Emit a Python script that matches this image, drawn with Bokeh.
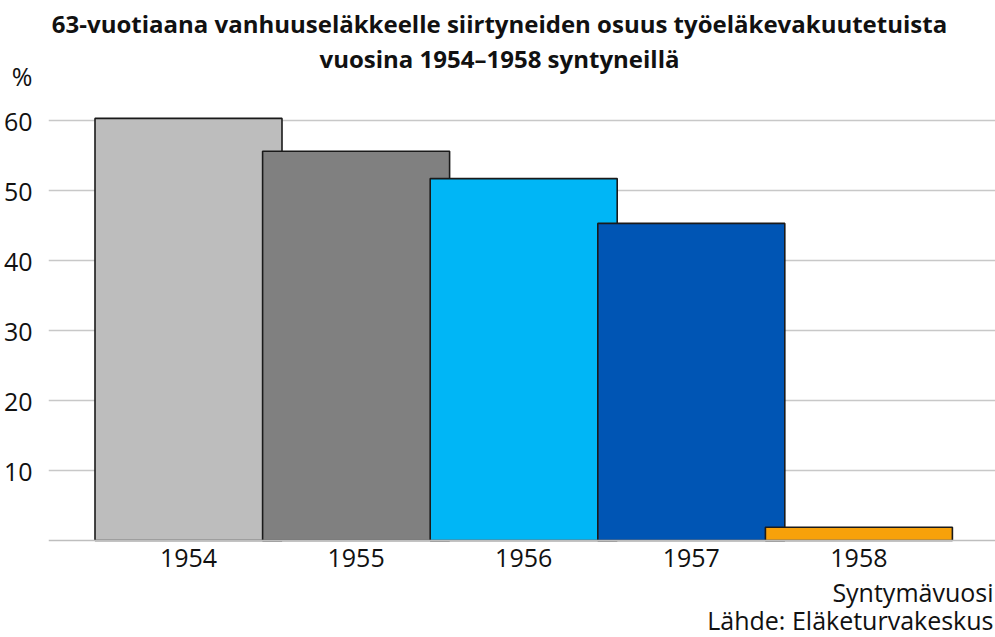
from bokeh.plotting import figure
from bokeh.models import ColumnDataSource, Label, FixedTicker, Range1d
from bokeh.embed import file_html
from bokeh.resources import INLINE

years = ["1954", "1955", "1956", "1957", "1958"]
shares = [60.3, 55.6, 51.7, 45.3, 1.9]
colors = ["#BDBDBD", "#808080", "#00B6F6", "#0055B4", "#F7A10A"]
y_ticks = [10, 20, 30, 40, 50, 60]

title_1 = "63-vuotiaana vanhuuseläkkeelle siirtyneiden osuus työeläkevakuutetuista"
title_2 = "vuosina 1954–1958 syntyneillä"
unit_label = "%"
x_title = "Syntymävuosi"
source_note = "Lähde: Eläketurvakeskus"

FONT = "Open Sans"
TXT = "#111111"

W, H = 995, 637
left_border = 48
zero_px = 540          # pixel row of the value 0
px_per_unit_x = 167.6
px_per_unit_y = 7.0

frame_w = W - left_border
x_start = -(188 - left_border) / px_per_unit_x
x_end = x_start + frame_w / px_per_unit_x
y_end = zero_px / px_per_unit_y
y_start = -(H - zero_px) / px_per_unit_y
unit_pos = (zero_px - 75) / px_per_unit_y  # where the "%" sits on the value axis

xpos = list(range(len(years)))
src = ColumnDataSource(dict(x=xpos, top=shares, color=colors))

p = figure(width=W, height=H, output_backend="svg", toolbar_location=None,
           x_range=Range1d(x_start, x_end), y_range=Range1d(y_start, y_end),
           min_border_left=left_border, min_border_right=0,
           min_border_top=0, min_border_bottom=0)
p.outline_line_color = None
p.background_fill_color = "white"
p.border_fill_color = "white"

p.vbar(x="x", top="top", width=187 / px_per_unit_x, bottom=0, source=src,
       fill_color="color", line_color="#1a1a1a", line_width=1.6)

# x axis, drawn at the value 0 inside the tall frame
p.xaxis.fixed_location = 0
p.xaxis.ticker = FixedTicker(ticks=xpos)
p.xaxis.major_label_overrides = {i: y for i, y in zip(xpos, years)}
p.xaxis.major_tick_line_color = None
p.xaxis.minor_tick_line_color = None
p.xaxis.axis_line_color = "#BEBEBE"
p.xaxis.axis_line_width = 1.5
p.xaxis.major_label_text_font = FONT
p.xaxis.major_label_text_font_size = "25px"
p.xaxis.major_label_text_color = TXT
p.xaxis.major_label_standoff = 2
p.xgrid.grid_line_color = None

# y axis (the unit sign sits above the top tick)
p.yaxis.ticker = FixedTicker(ticks=y_ticks + [unit_pos])
overrides = {t: str(t) for t in y_ticks}
overrides[unit_pos] = unit_label
p.yaxis.major_label_overrides = overrides
p.yaxis.major_tick_line_color = None
p.yaxis.minor_tick_line_color = None
p.yaxis.axis_line_color = None
p.yaxis.major_label_text_font = FONT
p.yaxis.major_label_text_font_size = "25px"
p.yaxis.major_label_text_color = TXT
p.yaxis.major_label_standoff = 10
p.ygrid.ticker = FixedTicker(ticks=y_ticks)
p.ygrid.grid_line_color = "#C8C8C8"
p.ygrid.grid_line_width = 1.5
p.ygrid.level = "underlay"

BASE_SHIFT = 9  # rendered baseline sits this much below the requested one

def add_text(txt, x, baseline_px, size, bold, align):
    p.add_layout(Label(x=x, y=H - baseline_px + BASE_SHIFT,
                       x_units="screen", y_units="screen", text=txt,
                       text_font=FONT, text_font_size=size,
                       text_font_style="bold" if bold else "normal",
                       text_color=TXT, text_align=align,
                       text_baseline="alphabetic"))

add_text(title_1, 499 - left_border, 32, "24px", True, "center")
add_text(title_2, 499 - left_border, 67, "24px", True, "center")
add_text(x_title, frame_w - 2, 600, "25px", False, "right")
add_text(source_note, frame_w - 2, 628, "25px", False, "right")

open("out.html", "w").write(file_html(p, INLINE))
